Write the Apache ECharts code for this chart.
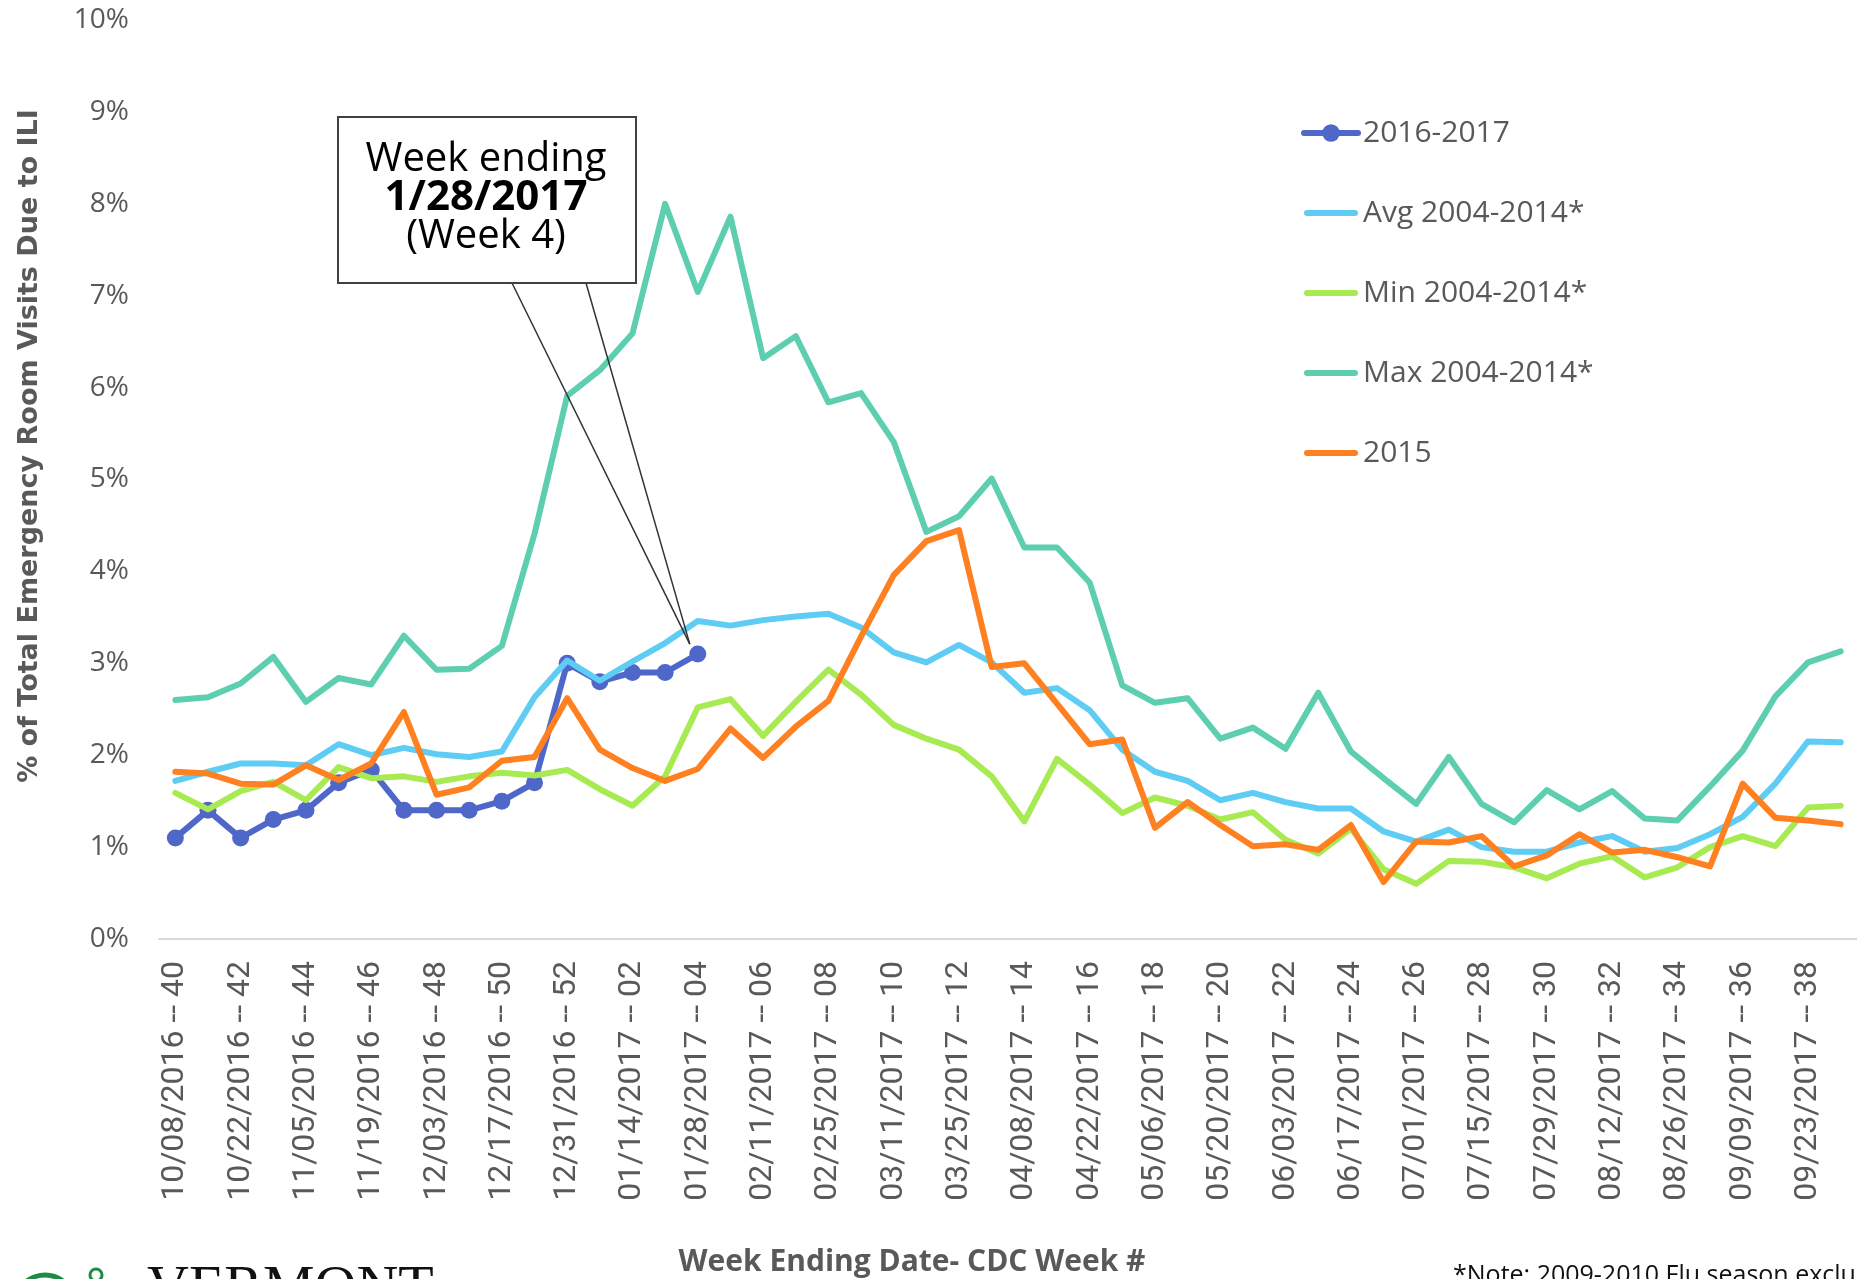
<!DOCTYPE html>
<html>
<head>
<meta charset="utf-8">
<title>ILI Emergency Room Visits</title>
<script src="https://cdn.jsdelivr.net/npm/echarts@6/dist/echarts.min.js"></script>
<style>
  html, body { margin: 0; padding: 0; background: #fff; }
  #chart { width: 1857px; height: 1279px; }
</style>
</head>
<body>
<div id="chart"></div>
<script>
// week ending dates and CDC week numbers (x axis)
const weekDates = [
  '10/08/2016', '10/15/2016', '10/22/2016', '10/29/2016', '11/05/2016', '11/12/2016', '11/19/2016',
  '11/26/2016', '12/03/2016', '12/10/2016', '12/17/2016', '12/24/2016', '12/31/2016', '01/07/2017',
  '01/14/2017', '01/21/2017', '01/28/2017', '02/04/2017', '02/11/2017', '02/18/2017', '02/25/2017',
  '03/04/2017', '03/11/2017', '03/18/2017', '03/25/2017', '04/01/2017', '04/08/2017', '04/15/2017',
  '04/22/2017', '04/29/2017', '05/06/2017', '05/13/2017', '05/20/2017', '05/27/2017', '06/03/2017',
  '06/10/2017', '06/17/2017', '06/24/2017', '07/01/2017', '07/08/2017', '07/15/2017', '07/22/2017',
  '07/29/2017', '08/05/2017', '08/12/2017', '08/19/2017', '08/26/2017', '09/02/2017', '09/09/2017',
  '09/16/2017', '09/23/2017', '09/30/2017'
];
const cdcWeeks = [
  '40', '41', '42', '43', '44', '45', '46', '47', '48', '49', '50', '51', '52',
  '01', '02', '03', '04', '05', '06', '07', '08', '09', '10', '11', '12', '13',
  '14', '15', '16', '17', '18', '19', '20', '21', '22', '23', '24', '25', '26',
  '27', '28', '29', '30', '31', '32', '33', '34', '35', '36', '37', '38', '39'
];

// % of ER visits due to ILI
const season2016 = [1.1, 1.4, 1.1, 1.3, 1.4, 1.7, 1.84, 1.4, 1.4, 1.4, 1.5, 1.7, 3.0, 2.8, 2.9, 2.9, 3.1];
const avg0414 = [
  1.72, 1.82, 1.91, 1.91, 1.89, 2.12, 2.00, 2.08, 2.01, 1.98, 2.04,
  2.63, 3.03, 2.81, 3.02, 3.22,
  3.46, 3.41, 3.47, 3.51, 3.54,
  3.39, 3.12, 3.01, 3.20, 3.01,
  2.68, 2.73, 2.49, 2.06, 1.82,
  1.72, 1.51, 1.59, 1.49, 1.42,
  1.42, 1.17, 1.06, 1.19, 1.00,
  0.95, 0.95, 1.05, 1.12, 0.95,
  0.99, 1.14, 1.33, 1.69, 2.15, 2.14
];
const min0414 = [
  1.59, 1.41, 1.61, 1.71, 1.51, 1.87, 1.75, 1.77, 1.71, 1.77, 1.81,
  1.78, 1.84, 1.63, 1.45, 1.77,
  2.52, 2.61, 2.21, 2.58, 2.93,
  2.66, 2.33, 2.18, 2.06, 1.77,
  1.28, 1.96, 1.68, 1.37, 1.54,
  1.45, 1.30, 1.38, 1.08, 0.93,
  1.20, 0.76, 0.60, 0.85, 0.84,
  0.78, 0.66, 0.82, 0.90, 0.67,
  0.78, 1.00, 1.12, 1.01, 1.43, 1.45
];
const max0414 = [
  2.60, 2.63, 2.78, 3.07, 2.58, 2.84, 2.77, 3.30, 2.93, 2.94, 3.19,
  4.41, 5.91, 6.19, 6.59, 8.00,
  7.04, 7.86, 6.32, 6.56, 5.84,
  5.94, 5.41, 4.43, 4.60, 5.01,
  4.26, 4.26, 3.88, 2.76, 2.57,
  2.62, 2.18, 2.30, 2.07, 2.68,
  2.04, 1.75, 1.47, 1.98, 1.47,
  1.27, 1.62, 1.41, 1.61, 1.31,
  1.29, 1.66, 2.05, 2.64, 3.01, 3.13
];
const season2015 = [
  1.82, 1.80, 1.69, 1.68, 1.89, 1.73, 1.91, 2.47, 1.57, 1.65, 1.94,
  1.98, 2.62, 2.06, 1.86, 1.72,
  1.85, 2.29, 1.97, 2.31, 2.59,
  3.29, 3.96, 4.33, 4.45, 2.96,
  3.00, 2.56, 2.12, 2.17, 1.21,
  1.49, 1.24, 1.01, 1.03, 0.97,
  1.24, 0.62, 1.06, 1.05, 1.12,
  0.79, 0.91, 1.14, 0.94, 0.97,
  0.89, 0.79, 1.69, 1.32, 1.29, 1.25
];

const seriesNames = ['2016-2017', 'Avg 2004-2014*', 'Min 2004-2014*', 'Max 2004-2014*', '2015'];
const seriesColors = ['#4E67C8', '#5ECCF3', '#A7EA52', '#5DCEAF', '#FF8021'];
const seriesValues = [season2016, avg0414, min0414, max0414, season2015];

const categories = weekDates.map((d, i) => d + ' -- ' + cdcWeeks[i]);
const gray = '#595959';
// plain rounded bar used as legend icon for series without markers
const lineIcon = 'path://M3,0 L51,0 A3,3 0 0 1 51,6 L3,6 A3,3 0 0 1 3,0 Z';

let chart = echarts.init(document.getElementById('chart'));

let series = seriesNames.map((name, i) => ({
  name: name,
  type: 'line',
  data: seriesValues[i],
  symbol: i === 0 ? 'circle' : 'none',
  symbolSize: 17,
  showSymbol: i === 0,
  color: seriesColors[i],
  lineStyle: {width: 6, color: seriesColors[i], cap: 'round', join: 'round'},
  itemStyle: {color: seriesColors[i]},
  z: 2 + i
}));

let legendData = seriesNames.map((name, i) => i === 0 ? {name: name} : {name: name, icon: lineIcon});

chart.setOption({
  animation: false,
  backgroundColor: '#fff',
  grid: {left: 159, top: 20, width: 1706, height: 919},
  legend: {
    orient: 'vertical',
    left: 1296,
    top: 113,
    itemWidth: 54,
    itemHeight: 22,
    itemGap: 50,
    data: legendData,
    lineStyle: {width: 6, cap: 'round'},
    textStyle: {fontFamily: 'Open Sans', fontSize: 30, color: gray}
  },
  xAxis: {
    type: 'category',
    data: categories,
    boundaryGap: true,
    axisTick: {show: false},
    axisLine: {lineStyle: {color: '#D9D9D9', width: 2}},
    axisLabel: {
      rotate: 90,
      interval: 1,
      margin: 22,
      fontFamily: 'Roboto',
      fontSize: 32,
      color: gray
    }
  },
  yAxis: {
    type: 'value',
    min: 0,
    max: 10,
    interval: 1,
    splitLine: {show: false},
    axisLine: {show: false},
    axisTick: {show: false},
    axisLabel: {
      formatter: '{value}%',
      margin: 30,
      fontFamily: 'Open Sans',
      fontSize: 28,
      color: gray
    }
  },
  series: series
});

// callout pointing at the latest 2016-2017 week
let tip = chart.convertToPixel({seriesIndex: 0}, [16, season2016[16]]);
tip = [tip[0] - 8, tip[1] - 10];

chart.setOption({
  graphic: [
    {
      type: 'text', rotation: Math.PI / 2, x: 30, y: 446,
      style: {
        text: '% of Total Emergency Room Visits Due to ILI',
        font: 'bold 27px "DejaVu Sans"', fill: gray,
        align: 'center', verticalAlign: 'middle'
      }
    },
    {
      type: 'text', x: 912, y: 1262,
      style: {
        text: 'Week Ending Date- CDC Week #',
        font: 'bold 30px "Open Sans"', fill: gray,
        align: 'center', verticalAlign: 'middle'
      }
    },
    {
      type: 'text', x: 1453, y: 1263,
      style: {
        text: '*Note: 2009-2010 Flu season excluded',
        font: '25px "Open Sans"', fill: '#111',
        align: 'left', verticalAlign: 'top'
      }
    },
    {
      type: 'text', x: 147, y: 1261,
      style: {
        text: 'VERMONT',
        font: '58px "Liberation Serif"', fill: '#111',
        align: 'left', verticalAlign: 'top'
      }
    },
    {
      type: 'circle', shape: {cx: 96, cy: 1275, r: 6},
      style: {fill: 'none', stroke: '#1E8B45', lineWidth: 3}
    },
    {
      type: 'arc', shape: {cx: 45, cy: 1305, r: 30, startAngle: Math.PI * 1.2, endAngle: Math.PI * 1.8},
      style: {fill: 'none', stroke: '#1E8B45', lineWidth: 5}
    },
    {
      type: 'line', z: 20,
      shape: {x1: 512, y1: 283, x2: tip[0], y2: tip[1]},
      style: {stroke: '#333', lineWidth: 1.5}
    },
    {
      type: 'line', z: 20,
      shape: {x1: 586, y1: 283, x2: tip[0], y2: tip[1]},
      style: {stroke: '#333', lineWidth: 1.5}
    },
    {
      type: 'rect', z: 21,
      shape: {x: 338, y: 117, width: 298, height: 166},
      style: {fill: '#fff', stroke: '#404040', lineWidth: 2}
    },
    {
      type: 'text', z: 22, x: 486, y: 160,
      style: {text: 'Week ending', font: '40px "Open Sans"', fill: '#000', align: 'center', verticalAlign: 'middle'}
    },
    {
      type: 'text', z: 22, x: 486, y: 198,
      style: {text: '1/28/2017', font: 'bold 42px "Open Sans"', fill: '#000', align: 'center', verticalAlign: 'middle'}
    },
    {
      type: 'text', z: 22, x: 486, y: 237,
      style: {text: '(Week 4)', font: '40px "Open Sans"', fill: '#000', align: 'center', verticalAlign: 'middle'}
    }
  ]
});
</script>
</body>
</html>
